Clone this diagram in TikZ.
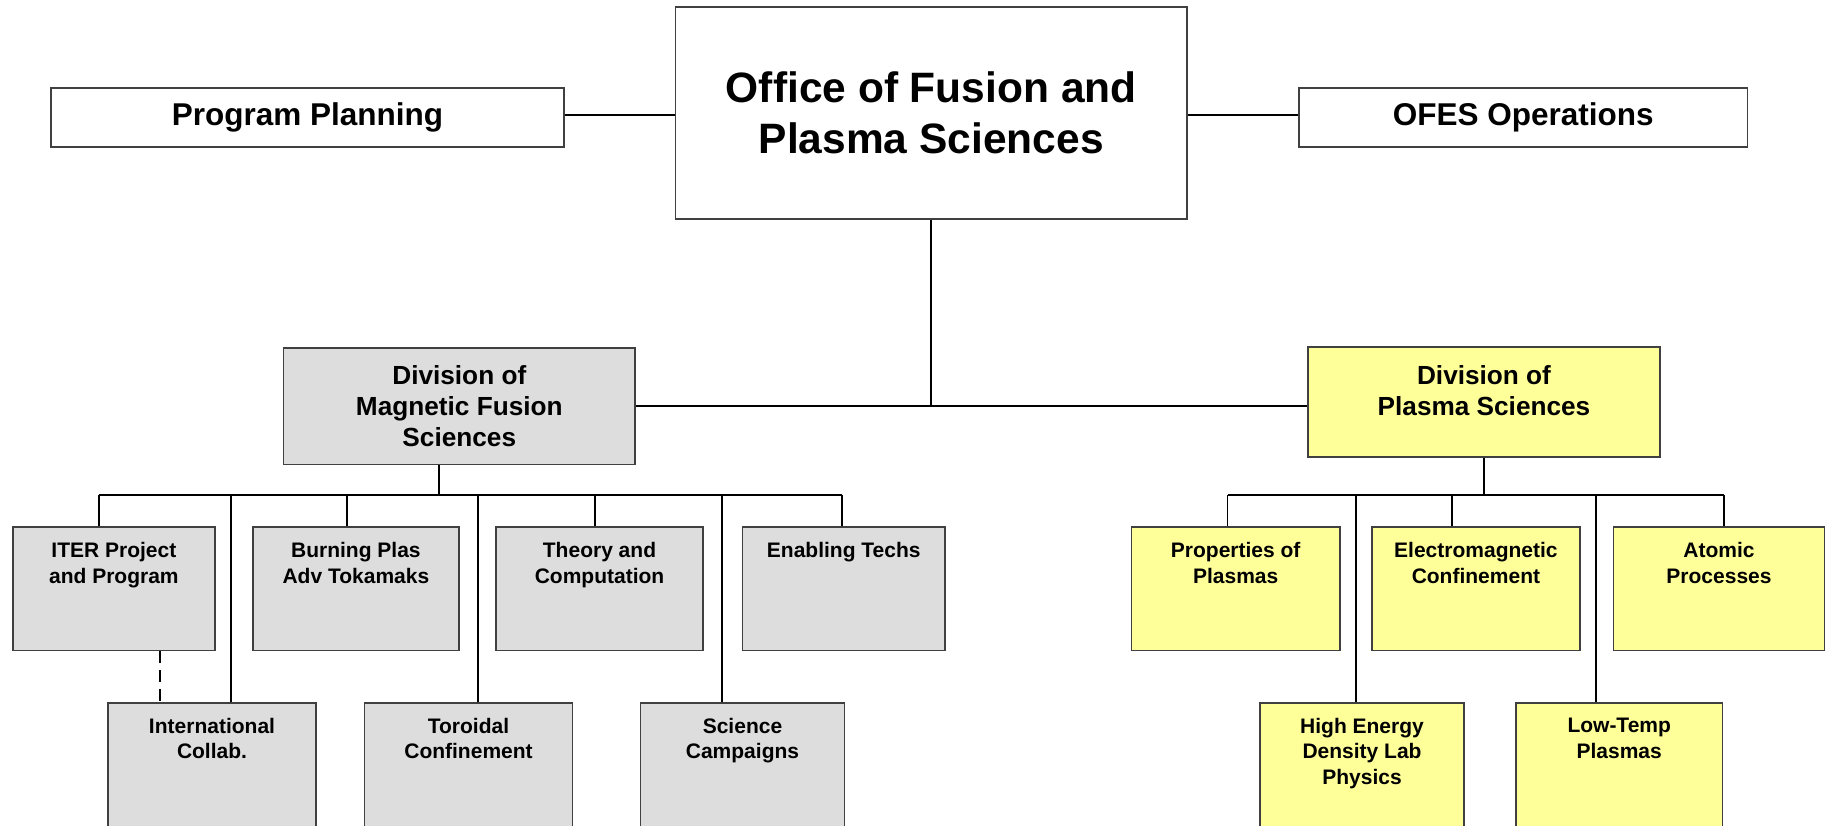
\documentclass[tikz,border=0pt]{standalone}
\usepackage{fontspec}
\setmainfont{Liberation Sans}
\definecolor{boxgray}{HTML}{DDDDDD}
\definecolor{boxyellow}{HTML}{FFFF99}
\definecolor{edgegray}{HTML}{404040}
\begin{document}
\begin{tikzpicture}[x=1pt,y=-1pt,
  box/.style={draw=edgegray, line width=1.6pt, inner sep=0pt, rectangle},
  wbox/.style={box, fill=white},
  gbox/.style={box, fill=boxgray},
  ybox/.style={box, fill=boxyellow},
  bigtxt/.style={font=\bfseries\fontsize{42.5}{51}\selectfont, align=center, inner sep=0pt},
  midtxt/.style={font=\bfseries\fontsize{31.5}{36}\selectfont, align=center, inner sep=0pt},
  divtxt/.style={font=\bfseries\fontsize{26.2}{31}\selectfont, align=center, inner sep=0pt},
  smalltxt/.style={font=\bfseries\fontsize{21}{25.7}\selectfont, align=center, inner sep=0pt, anchor=north},
  conn/.style={draw=black, line width=1.8pt},
  dconn/.style={draw=black, line width=1.8pt, dash pattern=on 12pt off 7pt}
]
\useasboundingbox (0,0) rectangle (1826,825);
\clip (0,0) rectangle (1826,825);

% top level
\node[wbox, minimum width=513pt, minimum height=59pt] (pp) at (307.5,117.5) {};
\node[midtxt] (ppT) at (pp.center) {Program Planning};
\node[wbox, minimum width=511.5pt, minimum height=212pt] (ofc) at (931.25,113) {};
\node[bigtxt] (ofcT) at (ofc.center) {Office of Fusion and\\Plasma Sciences};
\node[wbox, minimum width=448.6pt, minimum height=59pt] (ops) at (1523.3,117.5) {};
\node[midtxt] (opsT) at (ops.center) {OFES Operations};

% divisions
\node[gbox, minimum width=351.4pt, minimum height=116.6pt] (mfs) at (459.3,406) {};
\node[divtxt] (mfsT) at (mfs.center) {Division of\\Magnetic Fusion\\Sciences};
\node[ybox, minimum width=352pt, minimum height=110pt] (dps) at (1484,401.7) {};
\node[divtxt] (dpsT) at ([yshift=11pt]dps.center) {Division of\\Plasma Sciences};

% MFS top row
\node[gbox, minimum width=202.2pt, minimum height=123.3pt] (iter) at (113.9,588.7) {};
\node[gbox, minimum width=206.2pt, minimum height=123.3pt] (burn) at (355.9,588.7) {};
\node[gbox, minimum width=207pt, minimum height=123.3pt] (theo) at (599.5,588.7) {};
\node[gbox, minimum width=202.5pt, minimum height=123.3pt] (enab) at (843.75,588.7) {};
% MFS bottom row
\node[gbox, minimum width=208pt, minimum height=147pt] (intl) at (212,776.5) {};
\node[gbox, minimum width=207.9pt, minimum height=147pt] (toro) at (468.5,776.5) {};
\node[gbox, minimum width=203.9pt, minimum height=147pt] (scic) at (742.5,776.5) {};
% DPS top row
\node[ybox, minimum width=208.6pt, minimum height=123.3pt] (prop) at (1235.7,588.7) {};
\node[ybox, minimum width=207.8pt, minimum height=123.3pt] (emcf) at (1475.9,588.7) {};
\node[ybox, minimum width=210.9pt, minimum height=123.3pt] (atom) at (1719,588.7) {};
% DPS bottom row
\node[ybox, minimum width=204pt, minimum height=147pt] (hedp) at (1362,776.5) {};
\node[ybox, minimum width=206.7pt, minimum height=147pt] (lowt) at (1619.2,776.5) {};

% labels
\node[smalltxt] (iterT) at ([yshift=-16pt]iter.north) {ITER Project\\and Program};
\node[smalltxt] (burnT) at ([yshift=-16pt]burn.north) {Burning Plas\\Adv Tokamaks};
\node[smalltxt] (theoT) at ([yshift=-16pt]theo.north) {Theory and\\Computation};
\node[smalltxt] (enabT) at ([yshift=-16pt]enab.north) {Enabling Techs};
\node[smalltxt] (intlT) at ([yshift=-15.5pt]intl.north) {International\\Collab.};
\node[smalltxt] (toroT) at ([yshift=-15.5pt]toro.north) {Toroidal\\Confinement};
\node[smalltxt] (scicT) at ([yshift=-15.5pt]scic.north) {Science\\Campaigns};
\node[smalltxt] (propT) at ([yshift=-16pt]prop.north) {Properties of\\Plasmas};
\node[smalltxt] (emcfT) at ([yshift=-16pt]emcf.north) {Electromagnetic\\Confinement};
\node[smalltxt] (atomT) at ([yshift=-16pt]atom.north) {Atomic\\Processes};
\node[smalltxt] (hedpT) at ([yshift=-15.5pt]hedp.north) {High Energy\\Density Lab\\Physics};
\node[smalltxt] (lowtT) at ([yshift=-15.5pt]lowt.north) {Low-Temp\\Plasmas};

% bus coordinates
\coordinate (topline) at (0,115);
\coordinate (mdrop) at (439,495);
\coordinate (mL) at (99,495);
\coordinate (mR) at (841.6,495);
\coordinate (mB) at (347,495);
\coordinate (mT) at (595,495);
\coordinate (mI) at (231,495);
\coordinate (mO) at (478,495);
\coordinate (mS) at (721.6,495);
\coordinate (dL) at (1227.5,495);
\coordinate (dR) at (1723.7,495);
\coordinate (dE) at (1451.7,495);
\coordinate (dH) at (1356,495);
\coordinate (dW) at (1595.6,495);
\coordinate (dDrop) at (1483.8,495);
\coordinate (iterD) at (159.6,650);

% connectors
\draw[conn] (pp.east |- topline) -- (ofc.west |- topline);
\draw[conn] (ofc.east |- topline) -- (ops.west |- topline);
\draw[conn] (ofc.south) -- (ofc.south |- mfs.east);
\draw[conn] (mfs.east) -- (mfs.east -| dps.west);

\draw[conn] (mdrop |- mfs.south) -- (mdrop);
\draw[conn] (mL) -- (mR);
\draw[conn] (mL) -- (mL |- iter.north);
\draw[conn] (mB) -- (mB |- burn.north);
\draw[conn] (mT) -- (mT |- theo.north);
\draw[conn] (mR) -- (mR |- enab.north);
\draw[conn] (mI) -- (mI |- intl.north);
\draw[conn] (mO) -- (mO |- toro.north);
\draw[conn] (mS) -- (mS |- scic.north);
\draw[dconn] (iterD |- iter.south) -- (iterD |- intl.north);

\draw[conn] (dDrop |- dps.south) -- (dDrop);
\draw[conn] (dL) -- (dR);
\draw[conn] (dL) -- (dL |- prop.north);
\draw[conn] (dE) -- (dE |- emcf.north);
\draw[conn] (dR) -- (dR |- atom.north);
\draw[conn] (dH) -- (dH |- hedp.north);
\draw[conn] (dW) -- (dW |- lowt.north);
\end{tikzpicture}
\end{document}
